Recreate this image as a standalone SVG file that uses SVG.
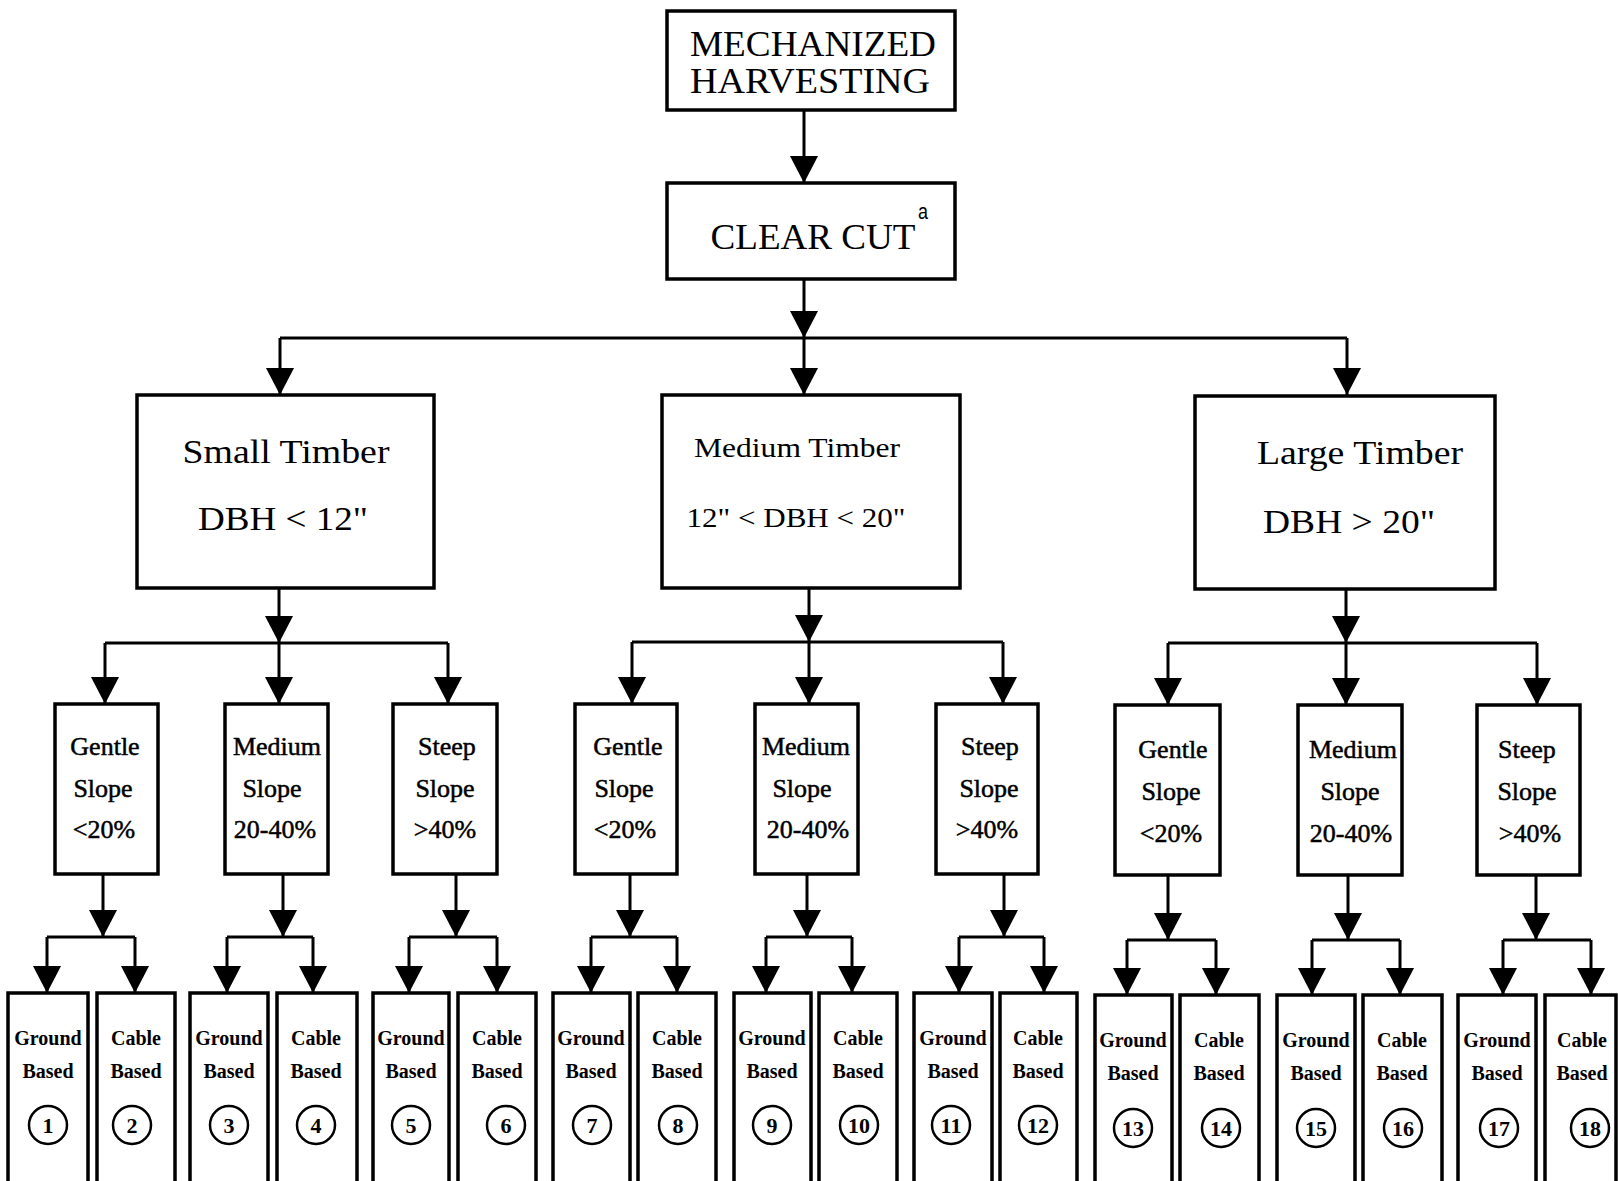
<svg xmlns="http://www.w3.org/2000/svg" width="1618" height="1181" viewBox="0 0 1618 1181">
<style>
.box{fill:#fff;stroke:#000;stroke-width:3.5}
.ln{fill:none;stroke:#000;stroke-width:3}
.ar{fill:none;stroke:#000;stroke-width:3;marker-end:url(#ah)}
.t{font-family:"Liberation Serif","Times New Roman",serif;fill:#000;text-anchor:middle}
.big{font-size:36px}
.med{font-size:28px}
.sl{font-size:26px;stroke:#000;stroke-width:0.5}
.gb{font-size:20px;font-weight:bold}
.num{font-size:22px;font-weight:bold}
.cir{fill:none;stroke:#000;stroke-width:2.5}
</style>
<defs>
<marker id="ah" markerUnits="userSpaceOnUse" viewBox="0 0 27 28" refX="27" refY="14" markerWidth="27" markerHeight="28" orient="auto">
<path d="M0,0 L27,14 L0,28 Z" fill="#000"/>
</marker>
</defs>
<rect width="1618" height="1181" fill="#fff"/>

<g id="connectors">
<path class="ar" d="M804,110 V183"/>
<path class="ar" d="M804,279 V338"/>
<path class="ln" d="M280,338 H1347"/>
<path class="ar" d="M280,338 V395"/>
<path class="ar" d="M804,338 V395"/>
<path class="ar" d="M1347,338 V395"/>

<path class="ar" d="M279,588 V643"/>
<path class="ln" d="M105,643 H448"/>
<path class="ar" d="M105,643 V704"/>
<path class="ar" d="M279,643 V704"/>
<path class="ar" d="M448,643 V704"/>

<path class="ar" d="M809,588 V642"/>
<path class="ln" d="M632,642 H1003"/>
<path class="ar" d="M632,642 V704"/>
<path class="ar" d="M809,642 V704"/>
<path class="ar" d="M1003,642 V704"/>

<path class="ar" d="M1346,589 V643"/>
<path class="ln" d="M1168,643 H1537"/>
<path class="ar" d="M1168,643 V705"/>
<path class="ar" d="M1346,643 V705"/>
<path class="ar" d="M1537,643 V705"/>

<path class="ar" d="M103,874 V937"/><path class="ln" d="M47,937 H135"/><path class="ar" d="M47,937 V993"/><path class="ar" d="M135,937 V993"/>
<path class="ar" d="M283,874 V937"/><path class="ln" d="M227,937 H313"/><path class="ar" d="M227,937 V993"/><path class="ar" d="M313,937 V993"/>
<path class="ar" d="M456,874 V937"/><path class="ln" d="M409,937 H497"/><path class="ar" d="M409,937 V993"/><path class="ar" d="M497,937 V993"/>
<path class="ar" d="M630,874 V937"/><path class="ln" d="M591,937 H677"/><path class="ar" d="M591,937 V993"/><path class="ar" d="M677,937 V993"/>
<path class="ar" d="M807,874 V937"/><path class="ln" d="M766,937 H852"/><path class="ar" d="M766,937 V993"/><path class="ar" d="M852,937 V993"/>
<path class="ar" d="M1004,874 V937"/><path class="ln" d="M959,937 H1044"/><path class="ar" d="M959,937 V993"/><path class="ar" d="M1044,937 V993"/>
<path class="ar" d="M1168,875 V940"/><path class="ln" d="M1127,940 H1216"/><path class="ar" d="M1127,940 V995"/><path class="ar" d="M1216,940 V995"/>
<path class="ar" d="M1348,875 V940"/><path class="ln" d="M1312,940 H1400"/><path class="ar" d="M1312,940 V995"/><path class="ar" d="M1400,940 V995"/>
<path class="ar" d="M1536,875 V940"/><path class="ln" d="M1503,940 H1591"/><path class="ar" d="M1503,940 V995"/><path class="ar" d="M1591,940 V995"/>
</g>

<g id="mechanized">
<rect class="box" x="667" y="11" width="288" height="99"/>
<text class="t big" x="813" y="56" textLength="246" lengthAdjust="spacingAndGlyphs">MECHANIZED</text>
<text class="t big" x="810" y="93" textLength="240" lengthAdjust="spacingAndGlyphs">HARVESTING</text>
</g>
<g id="clearcut">
<rect class="box" x="667" y="183" width="288" height="96"/>
<text class="t" style="font-size:36px" x="813" y="249" textLength="205" lengthAdjust="spacingAndGlyphs">CLEAR CUT</text>
<text x="918" y="219" textLength="10" lengthAdjust="spacingAndGlyphs" style="font-family:'Liberation Sans',Arial,sans-serif;font-size:22px">a</text>
</g>

<g id="small-timber">
<rect class="box" x="137" y="395" width="297" height="193"/>
<text class="t" style="font-size:34px" x="286" y="463" textLength="207" lengthAdjust="spacingAndGlyphs">Small Timber</text>
<text class="t" style="font-size:33px" x="283" y="530" textLength="170" lengthAdjust="spacingAndGlyphs">DBH &lt; 12"</text>
</g>
<g id="medium-timber">
<rect class="box" x="662" y="395" width="298" height="193"/>
<text class="t med" x="797" y="457" textLength="206" lengthAdjust="spacingAndGlyphs">Medium Timber</text>
<text class="t med" x="796" y="527" textLength="219" lengthAdjust="spacingAndGlyphs">12" &lt; DBH &lt; 20"</text>
</g>
<g id="large-timber">
<rect class="box" x="1195" y="396" width="300" height="193"/>
<text class="t" style="font-size:34px" x="1360" y="464" textLength="206" lengthAdjust="spacingAndGlyphs">Large Timber</text>
<text class="t" style="font-size:33px" x="1349" y="533" textLength="172" lengthAdjust="spacingAndGlyphs">DBH &gt; 20"</text>
</g>

<g id="slope-1"><rect class="box" x="55" y="704" width="103" height="170"/>
<text class="t sl" x="105" y="755">Gentle</text><text class="t sl" x="103" y="797">Slope</text><text class="t sl" x="104" y="838">&lt;20%</text></g>
<g id="slope-2"><rect class="box" x="225" y="704" width="103" height="170"/>
<text class="t sl" x="277" y="755">Medium</text><text class="t sl" x="272" y="797">Slope</text><text class="t sl" x="275" y="838">20-40%</text></g>
<g id="slope-3"><rect class="box" x="393" y="704" width="104" height="170"/>
<text class="t sl" x="447" y="755">Steep</text><text class="t sl" x="445" y="797">Slope</text><text class="t sl" x="445" y="838">&gt;40%</text></g>
<g id="slope-4"><rect class="box" x="575" y="704" width="102" height="170"/>
<text class="t sl" x="628" y="755">Gentle</text><text class="t sl" x="624" y="797">Slope</text><text class="t sl" x="625" y="838">&lt;20%</text></g>
<g id="slope-5"><rect class="box" x="755" y="704" width="103" height="170"/>
<text class="t sl" x="806" y="755">Medium</text><text class="t sl" x="802" y="797">Slope</text><text class="t sl" x="808" y="838">20-40%</text></g>
<g id="slope-6"><rect class="box" x="936" y="704" width="102" height="170"/>
<text class="t sl" x="990" y="755">Steep</text><text class="t sl" x="989" y="797">Slope</text><text class="t sl" x="987" y="838">&gt;40%</text></g>
<g id="slope-7"><rect class="box" x="1115" y="705" width="105" height="170"/>
<text class="t sl" x="1173" y="758">Gentle</text><text class="t sl" x="1171" y="800">Slope</text><text class="t sl" x="1171" y="842">&lt;20%</text></g>
<g id="slope-8"><rect class="box" x="1298" y="705" width="104" height="170"/>
<text class="t sl" x="1353" y="758">Medium</text><text class="t sl" x="1350" y="800">Slope</text><text class="t sl" x="1351" y="842">20-40%</text></g>
<g id="slope-9"><rect class="box" x="1477" y="705" width="103" height="170"/>
<text class="t sl" x="1527" y="758">Steep</text><text class="t sl" x="1527" y="800">Slope</text><text class="t sl" x="1530" y="842">&gt;40%</text></g>

<g id="method-1"><rect class="box" x="8" y="993" width="80" height="200"/><text class="t gb" x="48" y="1045">Ground</text><text class="t gb" x="48" y="1078">Based</text><circle class="cir" cx="48" cy="1125" r="19"/><text class="t num" x="48" y="1133">1</text></g>
<g id="method-2"><rect class="box" x="97" y="993" width="78" height="200"/><text class="t gb" x="136" y="1045">Cable</text><text class="t gb" x="136" y="1078">Based</text><circle class="cir" cx="132" cy="1125" r="19"/><text class="t num" x="132" y="1133">2</text></g>
<g id="method-3"><rect class="box" x="190" y="993" width="78" height="200"/><text class="t gb" x="229" y="1045">Ground</text><text class="t gb" x="229" y="1078">Based</text><circle class="cir" cx="229" cy="1125" r="19"/><text class="t num" x="229" y="1133">3</text></g>
<g id="method-4"><rect class="box" x="277" y="993" width="80" height="200"/><text class="t gb" x="316" y="1045">Cable</text><text class="t gb" x="316" y="1078">Based</text><circle class="cir" cx="316" cy="1125" r="19"/><text class="t num" x="316" y="1133">4</text></g>
<g id="method-5"><rect class="box" x="373" y="993" width="76" height="200"/><text class="t gb" x="411" y="1045">Ground</text><text class="t gb" x="411" y="1078">Based</text><circle class="cir" cx="411" cy="1125" r="19"/><text class="t num" x="411" y="1133">5</text></g>
<g id="method-6"><rect class="box" x="458" y="993" width="78" height="200"/><text class="t gb" x="497" y="1045">Cable</text><text class="t gb" x="497" y="1078">Based</text><circle class="cir" cx="506" cy="1125" r="19"/><text class="t num" x="506" y="1133">6</text></g>
<g id="method-7"><rect class="box" x="553" y="993" width="77" height="200"/><text class="t gb" x="591" y="1045">Ground</text><text class="t gb" x="591" y="1078">Based</text><circle class="cir" cx="592" cy="1125" r="19"/><text class="t num" x="592" y="1133">7</text></g>
<g id="method-8"><rect class="box" x="638" y="993" width="78" height="200"/><text class="t gb" x="677" y="1045">Cable</text><text class="t gb" x="677" y="1078">Based</text><circle class="cir" cx="678" cy="1125" r="19"/><text class="t num" x="678" y="1133">8</text></g>
<g id="method-9"><rect class="box" x="734" y="993" width="77" height="200"/><text class="t gb" x="772" y="1045">Ground</text><text class="t gb" x="772" y="1078">Based</text><circle class="cir" cx="772" cy="1125" r="19"/><text class="t num" x="772" y="1133">9</text></g>
<g id="method-10"><rect class="box" x="819" y="993" width="78" height="200"/><text class="t gb" x="858" y="1045">Cable</text><text class="t gb" x="858" y="1078">Based</text><circle class="cir" cx="859" cy="1125" r="19"/><text class="t num" x="859" y="1133">10</text></g>
<g id="method-11"><rect class="box" x="914" y="993" width="78" height="200"/><text class="t gb" x="953" y="1045">Ground</text><text class="t gb" x="953" y="1078">Based</text><circle class="cir" cx="951" cy="1125" r="19"/><text class="t num" x="951" y="1133">11</text></g>
<g id="method-12"><rect class="box" x="1000" y="993" width="77" height="200"/><text class="t gb" x="1038" y="1045">Cable</text><text class="t gb" x="1038" y="1078">Based</text><circle class="cir" cx="1038" cy="1125" r="19"/><text class="t num" x="1038" y="1133">12</text></g>
<g id="method-13"><rect class="box" x="1095" y="995" width="77" height="200"/><text class="t gb" x="1133" y="1047">Ground</text><text class="t gb" x="1133" y="1080">Based</text><circle class="cir" cx="1133" cy="1128" r="19"/><text class="t num" x="1133" y="1136">13</text></g>
<g id="method-14"><rect class="box" x="1180" y="995" width="79" height="200"/><text class="t gb" x="1219" y="1047">Cable</text><text class="t gb" x="1219" y="1080">Based</text><circle class="cir" cx="1221" cy="1128" r="19"/><text class="t num" x="1221" y="1136">14</text></g>
<g id="method-15"><rect class="box" x="1277" y="995" width="78" height="200"/><text class="t gb" x="1316" y="1047">Ground</text><text class="t gb" x="1316" y="1080">Based</text><circle class="cir" cx="1316" cy="1128" r="19"/><text class="t num" x="1316" y="1136">15</text></g>
<g id="method-16"><rect class="box" x="1363" y="995" width="79" height="200"/><text class="t gb" x="1402" y="1047">Cable</text><text class="t gb" x="1402" y="1080">Based</text><circle class="cir" cx="1403" cy="1128" r="19"/><text class="t num" x="1403" y="1136">16</text></g>
<g id="method-17"><rect class="box" x="1458" y="995" width="78" height="200"/><text class="t gb" x="1497" y="1047">Ground</text><text class="t gb" x="1497" y="1080">Based</text><circle class="cir" cx="1499" cy="1128" r="19"/><text class="t num" x="1499" y="1136">17</text></g>
<g id="method-18"><rect class="box" x="1545" y="995" width="71" height="200"/><text class="t gb" x="1582" y="1047">Cable</text><text class="t gb" x="1582" y="1080">Based</text><circle class="cir" cx="1590" cy="1128" r="19"/><text class="t num" x="1590" y="1136">18</text></g>
</svg>
